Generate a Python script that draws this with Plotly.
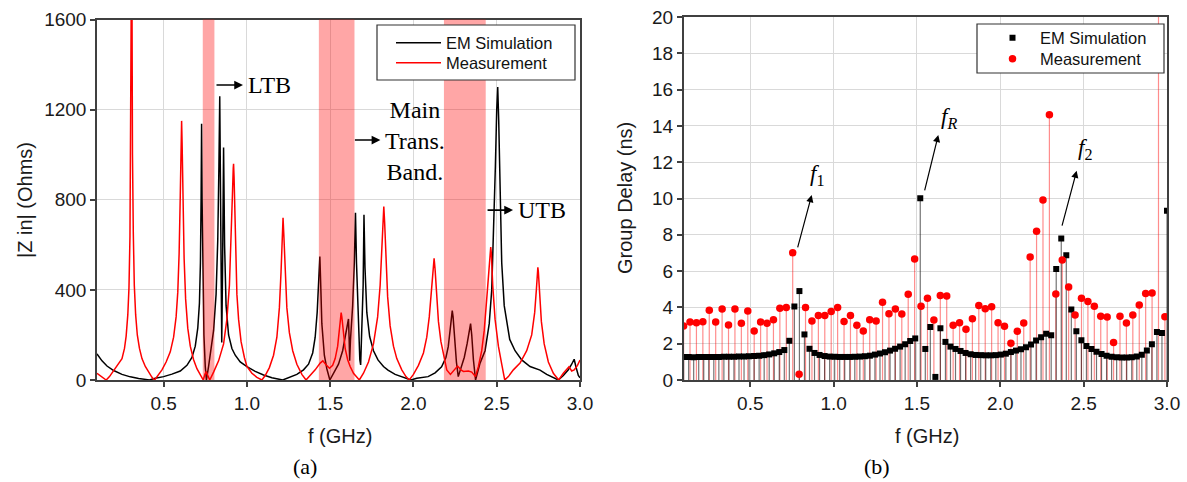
import numpy as np
import plotly.graph_objects as go

# ---------------- Panel (a): |Z in| vs frequency ----------------
em_f = [0.100, 0.130, 0.160, 0.200, 0.250, 0.300, 0.350, 0.400, 0.415, 0.450, 0.500, 0.550, 0.600,
        0.640, 0.670, 0.690, 0.705, 0.715, 0.721, 0.725, 0.728, 0.731, 0.735, 0.742, 0.750, 0.757,
        0.770, 0.780, 0.800, 0.815, 0.825, 0.832, 0.837, 0.843, 0.849, 0.854, 0.860, 0.866, 0.875,
        0.890, 0.910, 0.930, 0.960, 1.000, 1.050, 1.100, 1.150, 1.215, 1.260, 1.300, 1.340, 1.370,
        1.395, 1.410, 1.422, 1.432, 1.438, 1.443, 1.450, 1.465, 1.480, 1.498, 1.520, 1.550, 1.575,
        1.592, 1.603, 1.610, 1.614, 1.617, 1.622, 1.635, 1.645, 1.652, 1.658, 1.668, 1.678, 1.683,
        1.690, 1.698, 1.703, 1.709, 1.720, 1.737, 1.760, 1.787, 1.820, 1.847, 1.890, 1.928, 1.965,
        1.985, 2.020, 2.060, 2.088, 2.130, 2.169, 2.195, 2.209, 2.220, 2.228, 2.233, 2.238, 2.247,
        2.258, 2.269, 2.285, 2.305, 2.322, 2.335, 2.343, 2.350, 2.360, 2.373, 2.400, 2.430, 2.455,
        2.470, 2.482, 2.492, 2.500, 2.506, 2.512, 2.520, 2.530, 2.545, 2.578, 2.610, 2.650, 2.700,
        2.760, 2.800, 2.840, 2.870, 2.900, 2.930, 2.950, 2.965, 2.975, 2.990, 3.000]
em_z = [116, 85, 62, 42, 25, 14, 7, 1, 0, 8, 15, 26, 40,
        65, 100, 150, 230, 340, 520, 800, 1137, 800, 450, 200, 60, 0,
        60, 120, 220, 380, 620, 950, 1259, 700, 166, 500, 1032, 600, 330,
        200, 140, 110, 80, 59, 38, 22, 10, 0, 12, 25, 45, 70,
        120, 190, 300, 430, 548, 430, 250, 110, 50, 0, 30, 70, 130,
        200, 250, 271, 180, 86, 180, 330, 520, 742, 520, 250, 90, 67,
        200, 420, 733, 500, 300, 193, 130, 89, 60, 44, 25, 15, 3,
        0, 8, 12, 15, 32, 59, 100, 148, 220, 290, 308, 280, 180,
        80, 15, 50, 100, 160, 220, 250, 200, 90, 0, 75, 130, 250,
        400, 650, 950, 1200, 1300, 1150, 800, 520, 330, 180, 130, 89, 60,
        44, 25, 10, 0, 20, 45, 70, 92, 60, 20, 10]

meas_f = [0.100, 0.120, 0.140, 0.155, 0.175, 0.200, 0.225, 0.250, 0.265, 0.275, 0.285, 0.292, 0.298,
          0.302, 0.305, 0.307, 0.309, 0.313, 0.318, 0.324, 0.332, 0.342, 0.355, 0.370, 0.390, 0.410,
          0.430, 0.446, 0.465, 0.490, 0.515, 0.540, 0.560, 0.575, 0.585, 0.593, 0.600, 0.605, 0.608,
          0.611, 0.616, 0.623, 0.632, 0.645, 0.660, 0.680, 0.700, 0.720, 0.738, 0.748, 0.755, 0.762,
          0.777, 0.800, 0.830, 0.860, 0.880, 0.895, 0.905, 0.913, 0.918, 0.920, 0.923, 0.928, 0.935,
          0.940, 0.950, 0.965, 0.985, 1.000, 1.030, 1.060, 1.090, 1.110, 1.135, 1.160, 1.180, 1.195,
          1.205, 1.212, 1.217, 1.222, 1.230, 1.240, 1.255, 1.275, 1.300, 1.330, 1.355, 1.380, 1.410,
          1.440, 1.456, 1.475, 1.496, 1.515, 1.530, 1.545, 1.556, 1.563, 1.566, 1.570, 1.578, 1.590,
          1.605, 1.620, 1.640, 1.660, 1.675, 1.700, 1.730, 1.760, 1.785, 1.800, 1.810, 1.817, 1.822,
          1.827, 1.835, 1.845, 1.860, 1.880, 1.900, 1.930, 1.955, 1.975, 2.000, 2.030, 2.060, 2.080,
          2.095, 2.107, 2.117, 2.124, 2.130, 2.138, 2.150, 2.165, 2.185, 2.200, 2.222, 2.245, 2.265,
          2.285, 2.300, 2.330, 2.350, 2.372, 2.390, 2.410, 2.425, 2.440, 2.452, 2.460, 2.464, 2.468,
          2.476, 2.490, 2.510, 2.530, 2.548, 2.570, 2.600, 2.640, 2.680, 2.710, 2.728, 2.738, 2.745,
          2.747, 2.750, 2.757, 2.768, 2.785, 2.810, 2.840, 2.872, 2.900, 2.920, 2.934, 2.950, 2.965,
          2.985, 3.000]
meas_z = [30, 20, 8, 0, 15, 40, 65, 95, 140, 195, 290, 410, 640,
          1000, 1600, 2400, 1600, 1000, 650, 420, 290, 200, 140, 95, 60, 35,
          12, 0, 18, 45, 80, 125, 190, 280, 390, 560, 820, 1050, 1150,
          1050, 800, 540, 360, 230, 150, 90, 50, 20, 0, 25, 37, 25,
          0, 35, 85, 160, 270, 420, 600, 820, 940, 960, 900, 700, 480,
          380, 270, 170, 100, 60, 30, 12, 0, 20, 55, 110, 190, 320,
          480, 640, 720, 640, 460, 320, 210, 130, 70, 25, 0, 20, 45,
          75, 85, 68, 52, 65, 95, 150, 220, 280, 299, 280, 210, 140,
          90, 60, 30, 10, 0, 30, 80, 160, 280, 420, 570, 700, 770,
          700, 520, 370, 240, 150, 95, 45, 15, 0, 25, 65, 120, 190,
          280, 390, 490, 540, 490, 380, 260, 170, 100, 45, 25, 45, 62,
          45, 38, 40, 35, 15, 60, 130, 220, 360, 500, 580, 590, 560,
          420, 270, 150, 70, 0, 15, 45, 75, 130, 200, 300, 400, 490,
          500, 480, 380, 260, 160, 80, 30, 0, 30, 50, 59, 40, 45,
          65, 89]

# transmission bands (GHz)
band_lo = [0.735, 1.432, 2.183]
band_hi = [0.805, 1.646, 2.434]

# ---------------- Panel (b): group delay ----------------
gd_em = [1.27, 1.27, 1.26, 1.27, 1.27, 1.27, 1.27, 1.27, 1.28, 1.28, 1.28, 1.29, 1.30, 1.31, 1.32,
         1.34, 1.37, 1.41, 1.47, 1.54, 1.65, 2.16, 4.05, 4.90, 2.51, 1.72, 1.49, 1.38, 1.32, 1.29,
         1.28, 1.27, 1.27, 1.27, 1.28, 1.29, 1.31, 1.34, 1.40, 1.46, 1.53, 1.62, 1.72, 1.84, 1.97,
         2.15, 2.29, 10.02, 1.71, 2.92, 0.17, 2.85, 2.10, 1.84, 1.71, 1.60, 1.49, 1.42, 1.38, 1.37,
         1.36, 1.36, 1.37, 1.40, 1.45, 1.54, 1.62, 1.69, 1.80, 1.95, 2.17, 2.35, 2.55, 2.46, 6.11,
         7.79, 6.87, 3.89, 2.68, 2.19, 1.87, 1.71, 1.56, 1.43, 1.34, 1.28, 1.25, 1.24, 1.24, 1.25,
         1.30, 1.39, 1.62, 1.97, 2.65, 2.59, 9.33]
gd_em_f = list(np.linspace(0.1, 3.0, len(gd_em)))

gd_meas = [2.98, 3.20, 3.16, 3.21, 3.84, 3.20, 3.91, 3.03, 3.91, 3.12, 3.80, 2.70, 3.20, 3.12, 3.32,
           3.95, 3.99, 7.01, 0.31, 3.99, 3.25, 3.56, 3.56, 3.78, 3.99, 3.23, 3.56, 3.01, 2.70, 3.32,
           3.25, 4.28, 3.65, 3.91, 3.64, 4.72, 6.67, 4.06, 4.50, 3.31, 4.66, 4.63, 3.01, 3.16, 2.79,
           3.38, 4.10, 3.93, 4.04, 3.16, 2.96, 2.02, 2.68, 3.14, 6.78, 8.19, 9.92, 14.62, 4.74, 6.61,
           5.12, 3.58, 4.50, 4.32, 4.06, 3.51, 3.47, 2.06, 3.51, 3.14, 3.58, 4.13, 4.77, 4.79, 22.0,
           3.49]
gd_meas_step = 0.0385
gd_meas_f = [0.1 + gd_meas_step * i for i in range(len(gd_meas))]

# ---------------- figure ----------------
W, H = 1187, 482
SANS = "Liberation Sans, Arial, sans-serif"
SERIF = "Liberation Serif, Times New Roman, serif"

fig = go.Figure()

fig.add_trace(go.Scatter(x=em_f, y=em_z, mode="lines", name="EM Simulation",
                         line=dict(color="black", width=1.5), xaxis="x", yaxis="y", legend="legend"))
fig.add_trace(go.Scatter(x=meas_f, y=meas_z, mode="lines", name="Measurement",
                         line=dict(color="#ff0000", width=1.5), xaxis="x", yaxis="y", legend="legend3"))


def stems(xs, ys):
    sx, sy = [], []
    for a, b in zip(xs, ys):
        sx += [a, a, None]
        sy += [0, b, None]
    return sx, sy


sx, sy = stems(gd_meas_f, gd_meas)
fig.add_trace(go.Scatter(x=sx, y=sy, mode="lines", line=dict(color="rgba(255,0,0,0.45)", width=1.2),
                         showlegend=False, hoverinfo="skip", xaxis="x2", yaxis="y2"))
sx, sy = stems(gd_em_f, gd_em)
fig.add_trace(go.Scatter(x=sx, y=sy, mode="lines", line=dict(color="rgba(0,0,0,0.55)", width=1.2),
                         showlegend=False, hoverinfo="skip", xaxis="x2", yaxis="y2"))
fig.add_trace(go.Scatter(x=gd_em_f, y=gd_em, mode="markers", name="EM Simulation",
                         marker=dict(symbol="square", size=6, color="black"),
                         xaxis="x2", yaxis="y2", legend="legend2"))
fig.add_trace(go.Scatter(x=gd_meas_f, y=gd_meas, mode="markers", name="Measurement",
                         marker=dict(symbol="circle", size=7.5, color="#ff0000"),
                         xaxis="x2", yaxis="y2", legend="legend4"))

# bands
for lo, hi in zip(band_lo, band_hi):
    fig.add_shape(type="rect", xref="x", yref="y domain", x0=lo, x1=hi, y0=0, y1=1,
                  fillcolor="rgba(255,0,0,0.35)", line=dict(width=0), layer="above")

# legend frames
for (l, r, t, b) in [(377, 575, 25, 80), (977, 1164, 24, 73)]:
    fig.add_shape(type="rect", xref="paper", yref="paper", x0=l / W, x1=r / W, y0=(H - b) / H,
                  y1=(H - t) / H, fillcolor="white", line=dict(color="#333333", width=1.2), layer="above")

axis_common = dict(showline=True, linecolor="#404040", linewidth=1.5, mirror=True,
                   ticks="outside", ticklen=5, tickcolor="#404040", tickwidth=1.5,
                   showgrid=True, gridcolor="#d9d9d9", gridwidth=1, zeroline=False, automargin=False,
                   tickfont=dict(family=SANS, size=19, color="#1a1a1a"))

xd1 = [97 / W, 580 / W]
xd2 = [683.6 / W, 1167 / W]
yd1 = [102 / H, 462.5 / H]
yd2 = [102 / H, 465 / H]

leg_common = dict(bgcolor="rgba(0,0,0,0)", borderwidth=0, xanchor="left", yanchor="middle",
                  font=dict(family=SANS, size=16.5, color="#111"), itemwidth=45)

fig.update_layout(
    width=W, height=H, margin=dict(l=0, r=0, t=0, b=0, autoexpand=False),
    paper_bgcolor="white", plot_bgcolor="white",
    xaxis=dict(domain=xd1, range=[0.1, 3.0], tickvals=[0.5, 1.0, 1.5, 2.0, 2.5, 3.0],
               ticktext=["0.5", "1.0", "1.5", "2.0", "2.5", "3.0"], anchor="y", **axis_common),
    yaxis=dict(domain=yd1, range=[0, 1600], tickvals=[0, 400, 800, 1200, 1600], anchor="x", **axis_common),
    xaxis2=dict(domain=xd2, range=[0.1, 3.0], tickvals=[0.5, 1.0, 1.5, 2.0, 2.5, 3.0],
                ticktext=["0.5", "1.0", "1.5", "2.0", "2.5", "3.0"], anchor="y2", **axis_common),
    yaxis2=dict(domain=yd2, range=[0, 20], dtick=2, anchor="x2", **axis_common),
    legend=dict(x=391 / W, y=(H - 43) / H, **leg_common),
    legend3=dict(x=391 / W, y=(H - 63) / H, **leg_common),
    legend2=dict(x=985 / W, y=(H - 38) / H, **leg_common),
    legend4=dict(x=985 / W, y=(H - 59) / H, **leg_common),
    showlegend=True,
)

ann = []
pa = dict(xref="paper", yref="paper", showarrow=False, xanchor="center", yanchor="middle")
# axis titles and panel labels
ann.append(dict(text="|Z in| (Ohms)", x=25 / W, y=(H - 200) / H, textangle=-90,
                font=dict(family=SANS, size=20, color="#1a1a1a"), **pa))
ann.append(dict(text="Group Delay (ns)", x=625 / W, y=(H - 198) / H, textangle=-90,
                font=dict(family=SANS, size=20, color="#1a1a1a"), **pa))
ann.append(dict(text="f (GHz)", x=340 / W, y=(H - 436) / H,
                font=dict(family=SANS, size=20, color="#1a1a1a"), **pa))
ann.append(dict(text="f (GHz)", x=927 / W, y=(H - 436) / H,
                font=dict(family=SANS, size=20, color="#1a1a1a"), **pa))
ann.append(dict(text="(a)", x=305 / W, y=(H - 466) / H,
                font=dict(family=SERIF, size=22, color="black"), **pa))
ann.append(dict(text="(b)", x=877 / W, y=(H - 466) / H,
                font=dict(family=SERIF, size=22, color="black"), **pa))

# panel (a) band labels
arrow_style = dict(showarrow=True, arrowhead=2, arrowsize=1.1, arrowwidth=1.6, arrowcolor="black", text="")
ann.append(dict(x=0.9767, y=1309, ax=0.8085, ay=1309, xref="x", yref="y", axref="x", ayref="y", **arrow_style))
ann.append(dict(text="LTB", x=0.995, y=1309, xref="x", yref="y", xanchor="left", yanchor="middle",
                showarrow=False, font=dict(family=SERIF, size=24, color="black")))
ann.append(dict(x=1.8016, y=1065, ax=1.6395, ay=1065, xref="x", yref="y", axref="x", ayref="y", **arrow_style))
ann.append(dict(text="Main<br>Trans.<br>Band.", x=2.012, y=1061, xref="x", yref="y", showarrow=False,
                xanchor="center", yanchor="middle", align="center",
                font=dict(family=SERIF, size=24, color="black")))
ann.append(dict(x=2.598, y=754, ax=2.436, ay=754, xref="x", yref="y", axref="x", ayref="y", **arrow_style))
ann.append(dict(text="UTB", x=2.616, y=754, xref="x", yref="y", xanchor="left", yanchor="middle",
                showarrow=False, font=dict(family=SERIF, size=24, color="black")))

# panel (b) resonance labels
arrow2 = dict(showarrow=True, arrowhead=2, arrowsize=1.2, arrowwidth=1.2, arrowcolor="black", text="")
ann.append(dict(x=0.8685, y=10.19, ax=0.782, ay=7.22, xref="x2", yref="y2", axref="x2", ayref="y2", **arrow2))
ann.append(dict(x=1.628, y=13.5, ax=1.544, ay=10.37, xref="x2", yref="y2", axref="x2", ayref="y2", **arrow2))
ann.append(dict(x=2.458, y=11.53, ax=2.368, ay=8.42, xref="x2", yref="y2", axref="x2", ayref="y2", **arrow2))
lab_font = dict(family=SERIF, size=23, color="black")
lab = dict(xref="x2", yref="y2", showarrow=False, xanchor="center", yanchor="middle", font=lab_font)
ann.append(dict(text="<i>f</i><sub>1</sub>", x=0.903, y=11.32, **lab))
ann.append(dict(text="<i>f</i><sub><i>R</i></sub>", x=1.692, y=14.41, **lab))
ann.append(dict(text="<i>f</i><sub>2</sub>", x=2.508, y=12.75, **lab))

fig.update_layout(annotations=ann)

fig.write_html("out.html")
